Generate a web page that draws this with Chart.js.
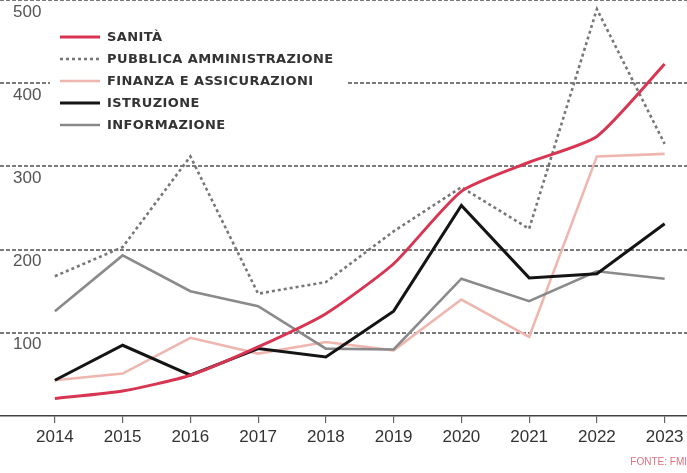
<!DOCTYPE html>
<html>
<head>
<meta charset="utf-8">
<script src="https://cdn.jsdelivr.net/npm/chart.js@4.4.1/dist/chart.umd.min.js"></script>
<style>
  html, body { margin: 0; padding: 0; background: #ffffff; }
  #wrap { width: 687px; height: 473px; position: relative; }
</style>
</head>
<body>
<div id="wrap"><canvas id="c"></canvas></div>
<script>
// ---- data ----
const years        = [2014, 2015, 2016, 2017, 2018, 2019, 2020, 2021, 2022, 2023];
const sanita       = [21, 30, 49, 83, 123, 183, 270, 305, 336, 423];
const pubblica     = [168, 203, 312, 147, 161, 222, 275, 225, 489, 327];
const finanza      = [43, 51, 94, 75, 89, 79, 140, 95, 312, 315];
const istruzione   = [43, 85, 49, 81, 71, 126, 253, 166, 171, 231];
const informazione = [126, 193, 150, 132, 81, 80, 165, 138, 174, 165];
const yTicks       = [0, 100, 200, 300, 400, 500];
const seriesNames  = ['SANITÀ', 'PUBBLICA AMMINISTRAZIONE', 'FINANZA E ASSICURAZIONI', 'ISTRUZIONE', 'INFORMAZIONE'];
const sourceText   = 'FONTE: FMI';

const toPts = arr => years.map((yr, i) => ({ x: yr, y: arr[i] }));

const datasets = [
  { label: seriesNames[0], data: toPts(sanita),       borderColor: '#d73552', borderWidth: 3,   tension: 0.2, order: 0 },
  { label: seriesNames[1], data: toPts(pubblica),     borderColor: '#777777', borderWidth: 2.6, borderDash: [3, 3], order: 4 },
  { label: seriesNames[2], data: toPts(finanza),      borderColor: '#efb6b0', borderWidth: 2.6, order: 3 },
  { label: seriesNames[3], data: toPts(istruzione),   borderColor: '#141414', borderWidth: 3,   order: 1 },
  { label: seriesNames[4], data: toPts(informazione), borderColor: '#8a8a8a', borderWidth: 2.6, order: 2 }
];
datasets.forEach(d => { d.pointRadius = 0; d.fill = false; d.borderCapStyle = 'butt'; d.borderJoinStyle = 'miter'; d.clip = false; });

const insideLegend = {
  id: 'insideLegend',
  beforeDatasetsDraw(chart) {
    const ctx = chart.ctx;
    ctx.save();
    ctx.fillStyle = '#ffffff';
    ctx.fillRect(50, 24, 296, 113);
    ctx.font = 'bold 13px "DejaVu Sans"';
    ctx.textBaseline = 'middle';
    ctx.textAlign = 'left';
    try { ctx.letterSpacing = '0.4px'; } catch (e) {}
    chart.data.datasets.forEach((ds, i) => {
      const y = 37 + i * 22;
      ctx.beginPath();
      ctx.strokeStyle = ds.borderColor;
      ctx.lineWidth = ds.borderWidth;
      ctx.lineCap = 'butt';
      ctx.setLineDash(ds.borderDash || []);
      ctx.moveTo(60, y);
      ctx.lineTo(100, y);
      ctx.stroke();
      ctx.setLineDash([]);
      ctx.fillStyle = '#333333';
      ctx.fillText(ds.label, 107, y + 1);
    });
    ctx.restore();
  }
};

new Chart(document.getElementById('c'), {
  type: 'line',
  data: { datasets },
  plugins: [insideLegend],
  options: {
    responsive: true,
    maintainAspectRatio: false,
    animation: false,
    layout: { padding: 0 },
    plugins: {
      legend: { display: false },
      tooltip: { enabled: false },
      subtitle: {
        display: true,
        text: sourceText,
        position: 'bottom',
        align: 'end',
        color: '#e0727f',
        font: { family: 'Liberation Sans', size: 10 },
        padding: { top: 0, bottom: 5 }
      }
    },
    scales: {
      x: {
        type: 'linear',
        min: 2013.19,
        max: 2023.33,
        afterBuildTicks: s => { s.ticks = years.map(v => ({ value: v })); },
        afterFit: s => { s.height = 40; s.paddingLeft = 0; s.paddingRight = 0; },
        grid: { drawOnChartArea: false, drawTicks: true, tickLength: 7, color: '#666', lineWidth: 1.2 },
        border: { display: true, color: '#444', width: 1.5 },
        ticks: {
          autoSkip: false,
          maxRotation: 0,
          padding: 4,
          color: '#333',
          font: { family: 'Liberation Sans', size: 17 },
          callback: v => String(v)
        }
      },
      y: {
        min: 0,
        max: 500,
        afterBuildTicks: s => { s.ticks = yTicks.map(v => ({ value: v })); },
        afterFit: s => { s.width = 0; s.paddingTop = 0; s.paddingBottom = 0; },
        grid: {
          drawTicks: false,
          color: c => (c.tick && c.tick.value === 0) ? 'rgba(0,0,0,0)' : '#7a7a7a',
          lineWidth: 2
        },
        border: { display: false, dash: [4, 2] },
        ticks: {
          mirror: true,
          padding: 13,
          labelOffset: 12,
          color: '#555',
          font: { family: 'Liberation Sans', size: 17 },
          callback: v => v === 0 ? '' : String(v)
        }
      }
    }
  }
});
</script>
</body>
</html>
